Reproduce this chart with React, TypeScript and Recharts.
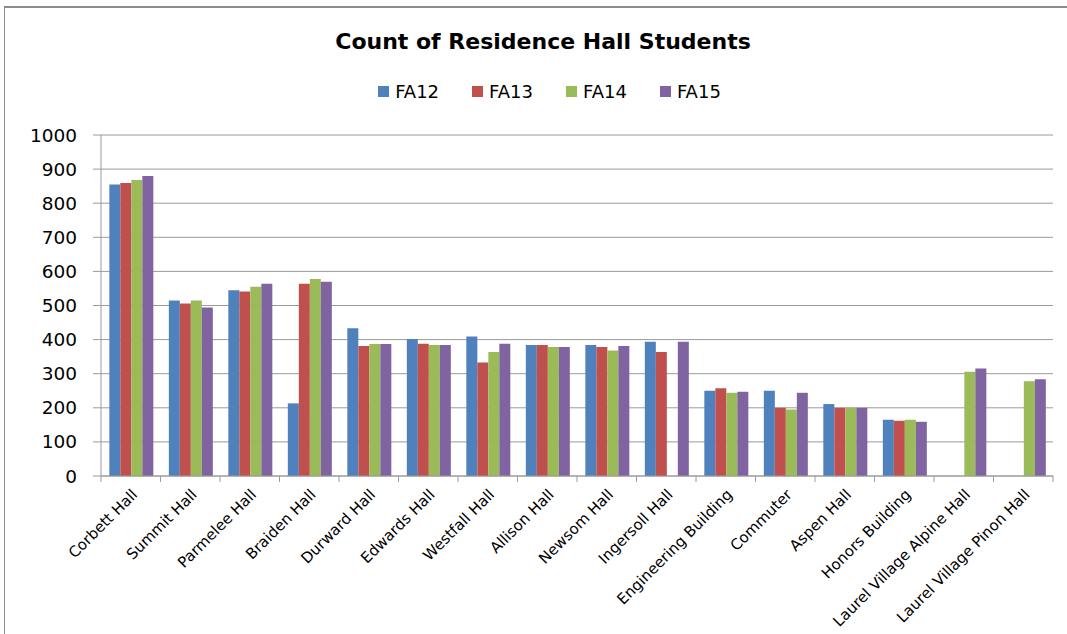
import React from 'react';
import { BarChart, Bar, XAxis, YAxis, CartesianGrid, Legend } from 'recharts';

const halls = [
  'Corbett Hall', 'Summit Hall', 'Parmelee Hall', 'Braiden Hall', 'Durward Hall',
  'Edwards Hall', 'Westfall Hall', 'Allison Hall', 'Newsom Hall', 'Ingersoll Hall',
  'Engineering Building', 'Commuter', 'Aspen Hall', 'Honors Building',
  'Laurel Village Alpine Hall', 'Laurel Village Pinon Hall',
];
const fa12 = [855, 515, 545, 213, 433, 402, 409, 384, 384, 394, 250, 250, 211, 165, null, null];
const fa13 = [859, 506, 541, 564, 381, 388, 333, 384, 378, 364, 257, 200, 200, 162, null, null];
const fa14 = [868, 515, 555, 578, 387, 384, 364, 378, 368, null, 244, 195, 200, 165, 306, 278];
const fa15 = [880, 494, 564, 570, 387, 384, 388, 378, 381, 394, 247, 244, 200, 159, 315, 284];
const yTicks = [0, 100, 200, 300, 400, 500, 600, 700, 800, 900, 1000];

const seriesNames = ['FA12', 'FA13', 'FA14', 'FA15'];
const colors = ['#4F81BD', '#C0504D', '#9BBB59', '#8064A2'];

const data = halls.map((name, i) => ({
  name,
  FA12: fa12[i],
  FA13: fa13[i],
  FA14: fa14[i],
  FA15: fa15[i],
}));

const font = '"DejaVu Sans", sans-serif';
const TICK_SIZE = 6;
const TICK_MARGIN = 6;

const LegendContent = () => (
  <div style={{ height: 88, display: 'flex', alignItems: 'center', justifyContent: 'center', paddingLeft: 46, fontFamily: font, fontSize: 18, color: '#000' }}>
    {seriesNames.map((s, i) => (
      <div key={s} style={{ display: 'flex', alignItems: 'center', marginRight: i < 3 ? 33 : 0 }}>
        <span style={{ display: 'inline-block', width: 11, height: 11, background: colors[i], marginRight: 6 }} />
        <span>{s}</span>
      </div>
    ))}
  </div>
);

const CatTick = (props: any) => {
  const { x, y, payload, index } = props;
  const half = payload && typeof payload.offset === 'number' ? payload.offset : 0;
  const axisY = y - TICK_SIZE - TICK_MARGIN;
  const isLast = index === halls.length - 1;
  return (
    <g>
      {half > 0 && (
        <line x1={x - half} x2={x - half} y1={axisY} y2={axisY + TICK_SIZE} stroke="#9a9a9a" />
      )}
      {half > 0 && isLast && (
        <line x1={x + half} x2={x + half} y1={axisY} y2={axisY + TICK_SIZE} stroke="#9a9a9a" />
      )}
      <text
        x={x}
        y={y}
        dy="0.71em"
        textAnchor="end"
        transform={`rotate(-45, ${x}, ${y})`}
        fontFamily={font}
        fontSize={15}
        fill="#000"
      >
        {payload.value}
      </text>
    </g>
  );
};

export default function App() {
  return (
    <div style={{ position: 'absolute', left: 0, top: 0, width: 1067, height: 634, background: '#fff', overflow: 'hidden' }}>
      <div style={{ position: 'absolute', left: 4, top: 6, width: 1063, height: 628, borderTop: '2px solid #8c8c8c', borderLeft: '1px solid #8c8c8c' }} />
      <div style={{ position: 'absolute', left: 0, top: 29, width: 1086, textAlign: 'center', fontFamily: font, fontWeight: 'bold', fontSize: 22, color: '#000' }}>
        Count of Residence Hall Students
      </div>
      <BarChart
        width={1067}
        height={634}
        data={data}
        margin={{ top: 47, right: 14, bottom: 8, left: 0 }}
        barCategoryGap="14%"
        barGap={0}
      >
        <CartesianGrid vertical={false} stroke="#9a9a9a" />
        <XAxis
          dataKey="name"
          interval={0}
          tickLine={false}
          tickSize={TICK_SIZE}
          tickMargin={TICK_MARGIN}
          height={150}
          axisLine={{ stroke: '#9a9a9a' }}
          tick={<CatTick />}
        />
        <YAxis
          width={101}
          domain={[0, 1000]}
          ticks={yTicks}
          interval={0}
          tickSize={8}
          tickMargin={16}
          tickLine={{ stroke: '#9a9a9a' }}
          axisLine={{ stroke: '#9a9a9a' }}
          tick={{ fontFamily: font, fontSize: 18.5, fill: '#000' }}
        />
        <Legend verticalAlign="top" align="center" content={<LegendContent />} />
        {seriesNames.map((s, i) => (
          <Bar key={s} dataKey={s} fill={colors[i]} isAnimationActive={false} />
        ))}
      </BarChart>
    </div>
  );
}
